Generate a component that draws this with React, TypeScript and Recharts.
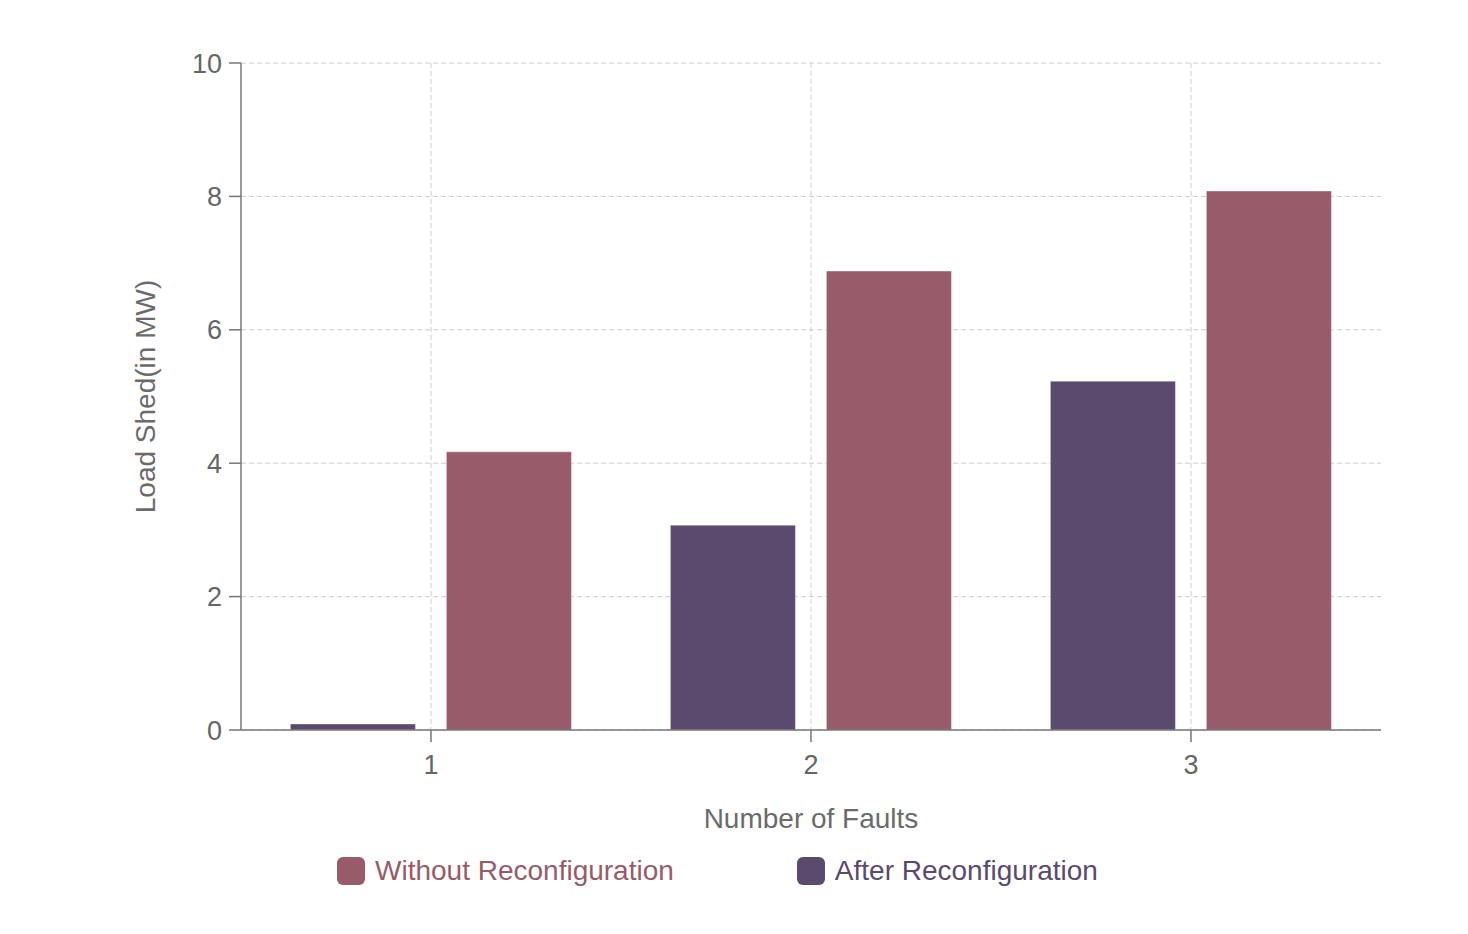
import React from "react";
import {
  BarChart,
  Bar,
  XAxis,
  YAxis,
  CartesianGrid,
  Legend,
} from "recharts";

const faults = ["1", "2", "3"];
const afterReconfiguration = [0.09, 3.07, 5.23];
const withoutReconfiguration = [4.17, 6.88, 8.08];
const yTicks = [0, 2, 4, 6, 8, 10];

const data = faults.map((f, i) => ({
  name: f,
  after: afterReconfiguration[i],
  without: withoutReconfiguration[i],
}));

const RED = "#985b6a";
const PURPLE = "#5a4a6e";
const FONT = "'Liberation Sans', Arial, Helvetica, sans-serif";

const legendItems = [
  { label: "Without Reconfiguration", color: RED },
  { label: "After Reconfiguration", color: PURPLE },
];

const LegendContent = () => (
  <div
    style={{
      display: "flex",
      alignItems: "center",
      height: 40,
      width: 1468,
      paddingLeft: 337,
      boxSizing: "border-box",
      fontFamily: FONT,
      fontSize: 28,
    }}
  >
    {legendItems.map((it, i) => (
      <div
        key={it.label}
        style={{ display: "flex", alignItems: "center", marginRight: i === 0 ? 123 : 0 }}
      >
        <span
          style={{
            display: "inline-block",
            width: 28,
            height: 28,
            borderRadius: 6,
            background: it.color,
            marginRight: 10,
          }}
        />
        <span style={{ color: it.color }}>{it.label}</span>
      </div>
    ))}
  </div>
);

const YLabel = (props: any) => {
  const vb = props.viewBox || { x: 0, y: 0, width: 0, height: 0 };
  const cx = vb.x + 45;
  const cy = vb.y + vb.height / 2;
  return (
    <text
      x={cx}
      y={cy}
      transform={`rotate(-90 ${cx} ${cy})`}
      textAnchor="middle"
      dominantBaseline="central"
      fill="#6b6b6b"
      fontSize={28}
      fontFamily={FONT}
    >
      Load Shed(in MW)
    </text>
  );
};

// vertical grid lines only at category centres (no line on the right edge)
const verticalLines = ({ offset }: any) =>
  faults.map((_, i) => offset.left + (offset.width * (i + 0.5)) / faults.length);

export default function App() {
  const tickStyle = { fill: "#666", fontSize: 27, fontFamily: FONT };
  return (
    <div style={{ position: "absolute", left: 0, top: 0, width: 1468, height: 934, background: "#fff" }}>
      <BarChart
        width={1468}
        height={934}
        data={data}
        margin={{ top: 63, right: 87, left: 100, bottom: 43 }}
        barCategoryGap="13%"
        barGap={31}
      >
        <CartesianGrid
          stroke="#cccccc"
          strokeDasharray="5 3"
          verticalCoordinatesGenerator={verticalLines}
        />
        <XAxis
          dataKey="name"
          height={121}
          stroke="#777"
          strokeWidth={1.5}
          tickSize={12}
          tickMargin={13}
          tick={tickStyle}
          label={{
            value: "Number of Faults",
            position: "insideBottom",
            offset: 23,
            fill: "#6b6b6b",
            fontSize: 28,
            fontFamily: FONT,
          }}
        />
        <YAxis
          width={141}
          domain={[0, 10]}
          ticks={yTicks}
          stroke="#777"
          strokeWidth={1.5}
          tickSize={12}
          tickMargin={7}
          tick={tickStyle}
          label={{ content: YLabel }}
        />
        <Legend
          verticalAlign="bottom"
          content={<LegendContent />}
          wrapperStyle={{ left: 0, width: 1468 }}
        />
        <Bar
          dataKey="after"
          name="After Reconfiguration"
          fill={PURPLE}
          stroke="#ffffff"
          strokeOpacity={0.35}
          isAnimationActive={false}
        />
        <Bar
          dataKey="without"
          name="Without Reconfiguration"
          fill={RED}
          stroke="#ffffff"
          strokeOpacity={0.35}
          isAnimationActive={false}
        />
      </BarChart>
    </div>
  );
}
